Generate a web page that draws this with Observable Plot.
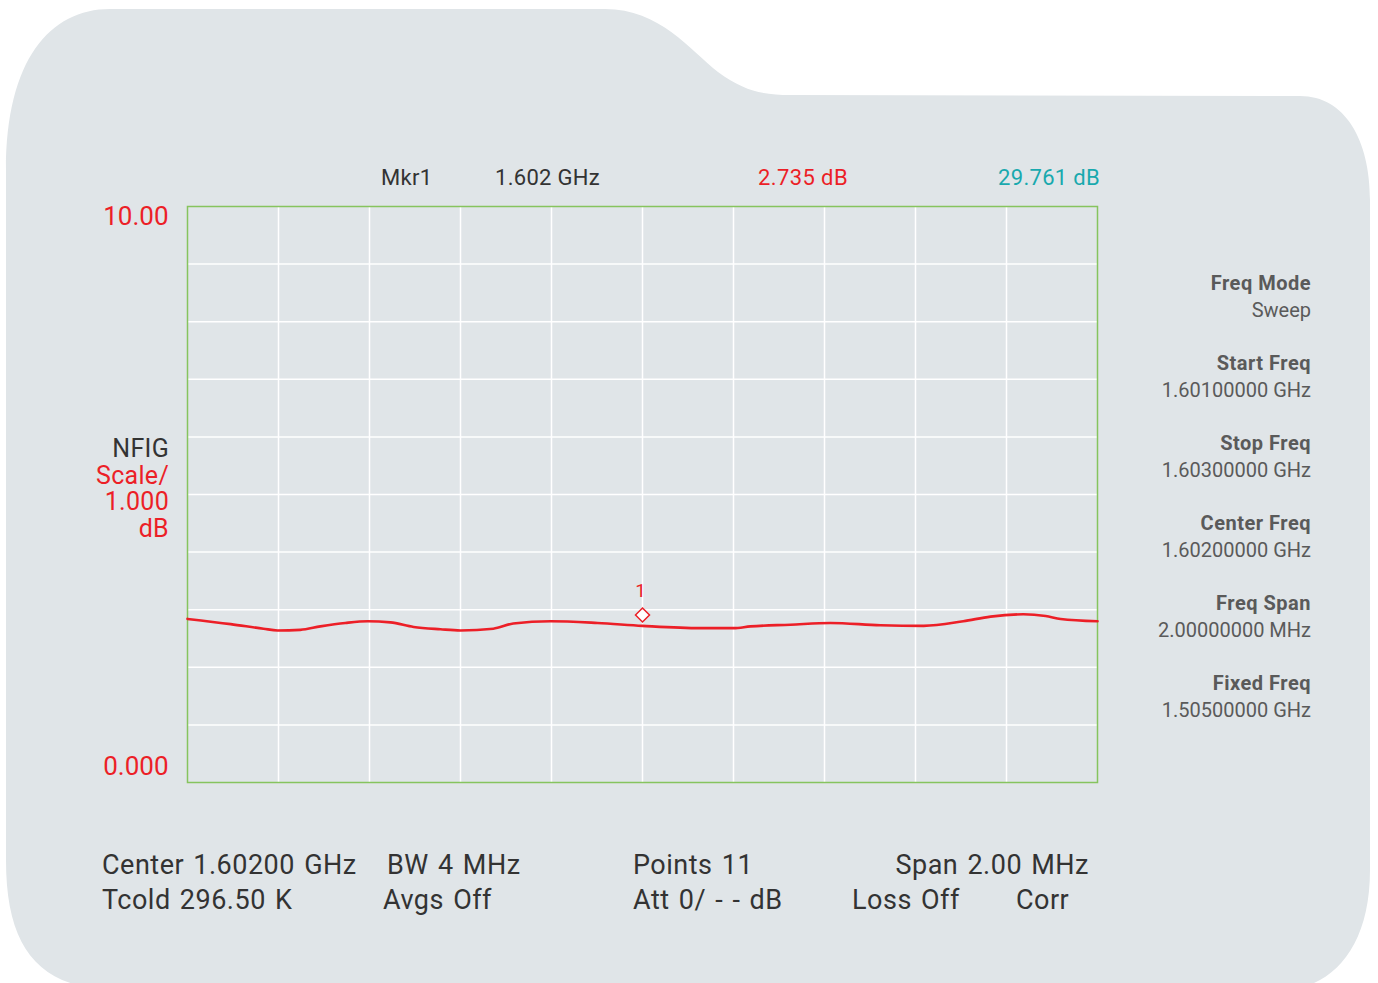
<!DOCTYPE html>
<html><head><meta charset="utf-8">
<script src="https://cdn.jsdelivr.net/npm/d3@7"></script>
<script src="https://cdn.jsdelivr.net/npm/@observablehq/plot@0.6"></script>
<style>
html,body{margin:0;padding:0;background:#fff;}
#stage{position:relative;width:1378px;height:983px;overflow:hidden;font-family:Roboto,"Noto Sans",sans-serif;}
#stage svg{position:absolute;left:0;top:0;}
.t{position:absolute;white-space:nowrap;line-height:1;transform:translateY(-50%);}
</style></head><body><div id="stage"></div>
<script>
// ---- data ----
const freqGHz = [1.601000,1.601095,1.601167,1.601198,1.601248,1.601292,1.601347,1.601396,1.601446,1.601497,
  1.601556,1.601600,1.601672,1.601716,1.601798,1.601901,1.602000,1.602127,1.602200,1.602237,
  1.602325,1.602413,1.602523,1.602618,1.602705,1.602765,1.602837,1.602886,1.602919,1.603000];
const noiseFigure = [2.84,2.75,2.67,2.64,2.65,2.71,2.77,2.80,2.78,2.70,
  2.66,2.64,2.67,2.76,2.80,2.77,2.72,2.68,2.68,2.71,
  2.74,2.77,2.73,2.72,2.80,2.88,2.92,2.89,2.84,2.80];
const markerFreq = 1.602;
const markerNF = 2.735;
const markerGain = 29.761;
const xDomain = [1.601, 1.603];
const yDomain = [0, 10];
const xGridTicks = [1.6012,1.6014,1.6016,1.6018,1.6020,1.6022,1.6024,1.6026,1.6028];
const yGridTicks = [1,2,3,4,5,6,7,8,9];
const yTickValues = [10, 0];
const yTickLabels = ["10.00", "0.000"];
const yTitleLines = ["NFIG", "Scale/", "1.000", "dB"];
const bottomRow1 = ["Center 1.60200 GHz", "BW 4 MHz", "Points 11", "Span 2.00 MHz"];
const bottomRow2 = ["Tcold 296.50 K", "Avgs Off", "Att 0/ - - dB", "Loss Off", "Corr"];
const sideLabels = ["Freq Mode","Start Freq","Stop Freq","Center Freq","Freq Span","Fixed Freq"];
const sideValues = ["Sweep","1.60100000 GHz","1.60300000 GHz","1.60200000 GHz","2.00000000 MHz","1.50500000 GHz"];

// ---- styles ----
const RED = "#ec1f27", CYAN = "#19a9ae", DARK = "#333333", GREY = "#5a5a5a", GREEN = "#86c45e", BG = "#e0e5e8";
const stage = document.getElementById("stage");

// background panel
const ns = "http://www.w3.org/2000/svg";
const bg = document.createElementNS(ns, "svg");
bg.setAttribute("width", 1378); bg.setAttribute("height", 983);
const p = document.createElementNS(ns, "path");
p.setAttribute("d", "M 6 170 C 6 60, 50 9, 110 9 L 605 9 C 660 9, 690 50, 718 72 C 745 92, 765 95, 790 95 L 1300 96 C 1345 96, 1370 140, 1370 200 L 1370 870 C 1370 950, 1330 990, 1280 990 L 120 990 C 40 990, 6 950, 6 860 Z");
p.setAttribute("fill", BG);
bg.appendChild(p);
stage.appendChild(bg);

// ---- chart ----
const data = freqGHz.map((f, i) => ({f, nf: noiseFigure[i]}));
const marker = [{f: markerFreq, nf: markerNF}];
const chart = Plot.plot({
  width: 1378, height: 983,
  marginLeft: 187, marginRight: 281, marginTop: 206, marginBottom: 201,
  style: {background: "transparent", fontFamily: "Roboto, sans-serif"},
  x: {domain: xDomain, axis: null},
  y: {domain: yDomain, axis: null},
  marks: [
    Plot.gridX(xGridTicks, {stroke: "#ffffff", strokeOpacity: 1, strokeWidth: 1.5}),
    Plot.gridY(yGridTicks, {stroke: "#ffffff", strokeOpacity: 1, strokeWidth: 1.5}),
    Plot.frame({stroke: GREEN, strokeWidth: 1.5}),
    Plot.line(data, {x: "f", y: "nf", stroke: RED, strokeWidth: 2.6, curve: "monotone-x"}),
    Plot.dot(marker, {x: "f", y: "nf", symbol: "diamond2", r: 6.3, stroke: RED, fill: "#ffffff", strokeWidth: 1.5, dy: -10}),
    Plot.text(marker, {x: "f", y: "nf", text: () => "1", dx: -2, dy: -34, fill: RED, fontSize: 19}),
    Plot.axisY([yTickValues[0]], {tickSize: 0, tickPadding: 19, dy: 10, fontSize: 26, color: RED,
      tickFormat: v => yTickLabels[yTickValues.indexOf(v)], label: null}),
    Plot.axisY([yTickValues[1]], {tickSize: 0, tickPadding: 19, dy: -16, fontSize: 26, color: RED,
      tickFormat: v => yTickLabels[yTickValues.indexOf(v)], label: null})
  ]
});
stage.appendChild(chart);

// ---- text overlays ----
function txt(s, opts) {
  const d = document.createElement("div");
  d.className = "t";
  d.textContent = s;
  if (opts.left != null) d.style.left = opts.left + "px";
  if (opts.right != null) { d.style.right = (1378 - opts.right) + "px"; d.style.textAlign = "right"; }
  d.style.top = opts.y + "px";
  d.style.fontSize = (opts.size || 24) + "px";
  d.style.color = opts.color || DARK;
  if (opts.ls != null) d.style.letterSpacing = opts.ls + "px";
  if (opts.ws != null) d.style.wordSpacing = opts.ws + "px";
  if (opts.bold) d.style.fontWeight = "bold";
  stage.appendChild(d);
}
// marker readout
txt("Mkr1", {left: 381, y: 178, size: 22, ls: 0.3});
txt(markerFreq.toFixed(3) + " GHz", {left: 495, y: 178, size: 22, ls: 0.3});
txt(markerNF.toFixed(3) + " dB", {left: 758, y: 178, size: 22, ls: 0.4, color: RED});
txt(markerGain.toFixed(3) + " dB", {right: 1100, y: 178, size: 22, ls: 0.3, color: CYAN});
// y title
yTitleLines.forEach((s, i) => txt(s, {right: 169, y: 448 + i * 26.7, size: 25, ls: 0.3, color: i === 0 ? DARK : RED}));
// bottom status rows
const row1X = [102, 387, 633, null], row2X = [102, 383, 633, 852, 1016];
bottomRow1.forEach((s, i) => i === 3
  ? txt(s, {right: 1089, y: 865, size: 27, ls: 0.5, ws: 2})
  : txt(s, {left: row1X[i], y: 865, size: 27, ls: 0.5, ws: 2}));
bottomRow2.forEach((s, i) => txt(s, {left: row2X[i], y: 900, size: 27, ls: 0.5, ws: 2}));
// side panel
sideLabels.forEach((s, i) => {
  txt(s, {right: 1311, y: 283 + i * 80, size: 20, ls: 0.5, color: GREY, bold: true});
  txt(sideValues[i], {right: 1311, y: 310 + i * 80, size: 20, color: GREY});
});
</script>
</body></html>
